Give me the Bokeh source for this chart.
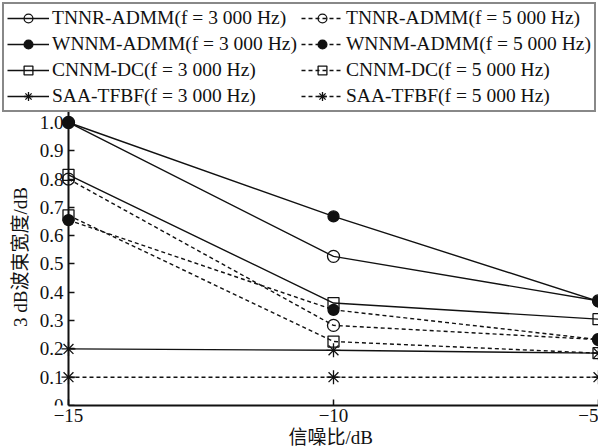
from bokeh.plotting import figure
from bokeh.models import (Legend, LegendItem, FixedTicker, CustomJSTickFormatter,
                          Range1d, ColumnDataSource, Title)
from bokeh.embed import file_html
from bokeh.resources import INLINE

# ---- data ----
snr = [-15, -10, -5]
tnnr_3000 = [1.0, 0.527, 0.37]
wnnm_3000 = [1.0, 0.668, 0.368]
cnnm_3000 = [0.815, 0.362, 0.305]
saa_3000 = [0.20, 0.195, 0.185]
tnnr_5000 = [0.80, 0.283, 0.233]
wnnm_5000 = [0.655, 0.338, 0.233]
cnnm_5000 = [0.672, 0.226, 0.185]
saa_5000 = [0.10, 0.10, 0.10]

x_ticks = [-15, -10, -5]
y_ticks = [0, 0.1, 0.2, 0.3, 0.4, 0.5, 0.6, 0.7, 0.8, 0.9, 1.0]

series = [
    ("TNNR-ADMM(f = 3 000 Hz)", tnnr_3000, "circle", False, "solid"),
    ("WNNM-ADMM(f = 3 000 Hz)", wnnm_3000, "circle", True, "solid"),
    ("CNNM-DC(f = 3 000 Hz)", cnnm_3000, "square", False, "solid"),
    ("SAA-TFBF(f = 3 000 Hz)", saa_3000, "asterisk", False, "solid"),
    ("TNNR-ADMM(f = 5 000 Hz)", tnnr_5000, "circle", False, "dashed"),
    ("WNNM-ADMM(f = 5 000 Hz)", wnnm_5000, "circle", True, "dashed"),
    ("CNNM-DC(f = 5 000 Hz)", cnnm_5000, "square", False, "dashed"),
    ("SAA-TFBF(f = 5 000 Hz)", saa_5000, "asterisk", False, "dashed"),
]

SERIF = "'Liberation Serif', 'Noto Sans CJK SC'"
INK = "#111111"
SIZES = {"circle": 12, "dot": 11, "square": 11, "asterisk": 14}

# frame covers the whole page; the axes are pinned at x=-15 / y=0
p = figure(width=598, height=448, output_backend="svg", toolbar_location=None,
           x_range=Range1d(-16.283, -5), y_range=Range1d(0, 1.431),
           min_border_left=0, min_border_right=0, min_border_top=0,
           min_border_bottom=43)
p.outline_line_color = None
p.xgrid.visible = False
p.ygrid.visible = False

items = []
for label, vals, marker, filled, dash in series:
    src = ColumnDataSource(dict(x=snr, y=vals))
    lr = p.line("x", "y", source=src, line_color=INK, line_width=1.4,
                line_dash="4 3" if dash == "dashed" else "solid")
    sr = p.scatter("x", "y", source=src, marker=marker,
                   size=SIZES["dot" if filled else marker],
                   line_color=INK, line_width=1.3,
                   fill_color=INK if filled else None)
    items.append(LegendItem(label=label, renderers=[lr, sr]))

legend = Legend(items=items, ncols=2, location="top_left",
                label_text_font=SERIF, label_text_font_size="19.5px",
                label_text_color=INK,
                glyph_width=42, glyph_height=22, label_height=22,
                label_standoff=3, spacing=4, padding=3, margin=2,
                border_line_color=INK, border_line_width=2,
                background_fill_color="white", background_fill_alpha=1.0)
p.add_layout(legend, "center")

for ax in (p.xaxis[0], p.yaxis[0]):
    ax.axis_line_width = 2
    ax.axis_line_color = INK
    ax.major_tick_line_color = INK
    ax.major_tick_line_width = 1.5
    ax.major_tick_in = 6
    ax.major_tick_out = 0
    ax.minor_tick_line_color = None
    ax.major_label_text_font = SERIF
    ax.major_label_text_font_size = "19px"
    ax.major_label_text_color = INK
    ax.axis_label_text_font = SERIF
    ax.axis_label_text_font_size = "19px"
    ax.axis_label_text_font_style = "normal"
    ax.axis_label_text_color = INK

p.xaxis.ticker = FixedTicker(ticks=x_ticks)
p.xaxis.bounds = (-15, -5)
p.xaxis.formatter = CustomJSTickFormatter(
    code='return tick < 0 ? "\\u2212" + (-tick) : String(tick);')
p.xaxis.major_label_standoff = 3

xlabel = Title(text="信噪比/dB", align="left", offset=288, standoff=0,
               text_font=SERIF, text_font_size="19px",
               text_font_style="normal", text_color=INK)
p.add_layout(xlabel, "below")

p.yaxis.ticker = FixedTicker(ticks=y_ticks)
p.yaxis.fixed_location = -15
p.yaxis.bounds = (0, 1.05)
p.yaxis.formatter = CustomJSTickFormatter(
    code='return tick == 0 ? "0" : tick.toFixed(1);')
p.yaxis.major_label_standoff = 5
p.yaxis.axis_label = "3 dB波束宽度/dB"
p.yaxis.axis_label_standoff = 6

open("out.html", "w").write(file_html(p, INLINE))
